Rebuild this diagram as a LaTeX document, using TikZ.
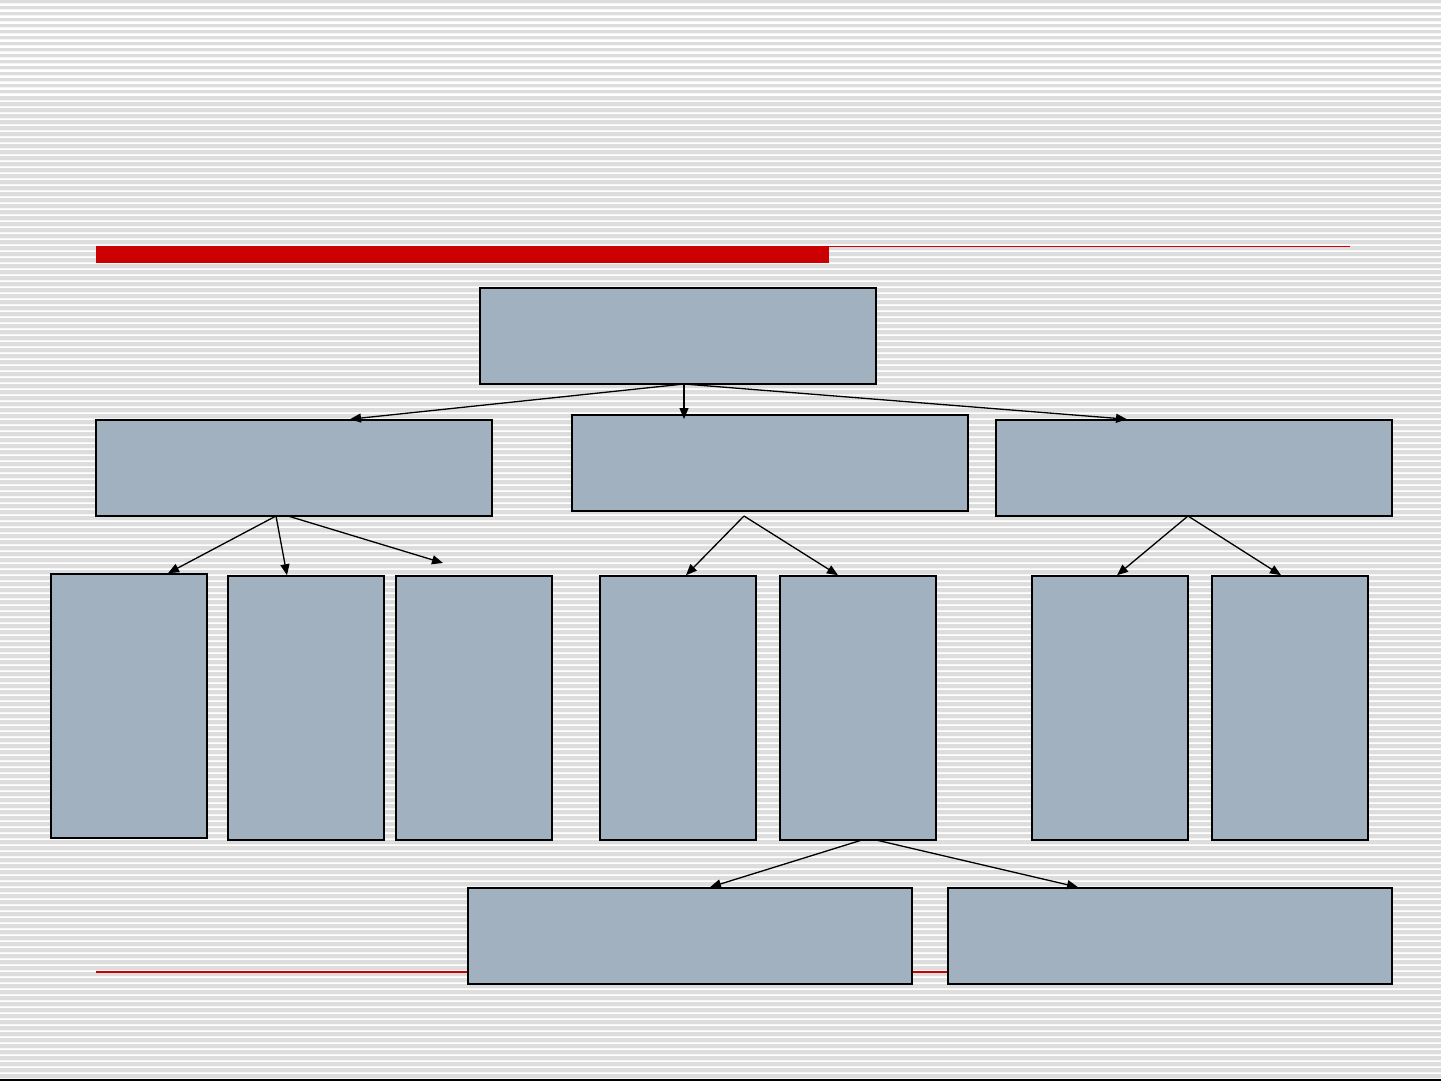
\documentclass[tikz,border=0pt]{standalone}
\usetikzlibrary{arrows.meta}
\definecolor{bgray}{HTML}{DDDDDD}
\definecolor{boxfill}{HTML}{A2B1C0}
\definecolor{redbar}{HTML}{CC0000}
\begin{document}
\begin{tikzpicture}[x=1pt,y=-1pt,
  box/.style={draw=black,line width=1.6pt,fill=boxfill,inner sep=0pt,rectangle},
  arr/.style={line width=1.3pt,-{Triangle[length=11pt,width=9pt]}}]
\useasboundingbox (0,0) rectangle (1441,1081);
\fill[bgray] (0,0) rectangle (1441,1081);
\foreach \k in {0,...,179}{
  \fill[white!96!black] (0,{6*\k+3.5}) rectangle (1441,{6*\k+4.5});
  \fill[white] (0,{6*\k+4.5}) rectangle (1441,{6*\k+5.8});
}
\fill[black] (0,1078.5) rectangle (1441,1080.5);
% red decoration
\fill[redbar] (96,246) rectangle (829,263);
\fill[redbar] (829,245.8) rectangle (1350,247.3);
\fill[redbar] (96,971.2) rectangle (1350,972.9);
% boxes
\node[box,minimum width=396pt,minimum height=96pt] (top) at (678,336) {};
\node[box,minimum width=396pt,minimum height=96pt] (L) at (294,468) {};
\node[box,minimum width=396pt,minimum height=96pt] (M) at (770,463) {};
\node[box,minimum width=396pt,minimum height=96pt] (R) at (1194,468) {};
\node[box,minimum width=156pt,minimum height=264pt] (a1) at (129,706) {};
\node[box,minimum width=156pt,minimum height=264pt] (a2) at (306,708) {};
\node[box,minimum width=156pt,minimum height=264pt] (a3) at (474,708) {};
\node[box,minimum width=156pt,minimum height=264pt] (b1) at (678,708) {};
\node[box,minimum width=156pt,minimum height=264pt] (b2) at (858,708) {};
\node[box,minimum width=156pt,minimum height=264pt] (c1) at (1110,708) {};
\node[box,minimum width=156pt,minimum height=264pt] (c2) at (1290,708) {};
\node[box,minimum width=444pt,minimum height=96pt] (d1) at (690,936) {};
\node[box,minimum width=444pt,minimum height=96pt] (d2) at (1170,936) {};
% connector coordinates
\coordinate (ts) at (684,384);
\coordinate (ls) at (276,516);
\coordinate (ls2) at (288,516);
\coordinate (ms) at (744,516);
\coordinate (rs) at (1188,516);
\coordinate (bs) at (862,840);
\coordinate (bs2) at (876,840);
\coordinate (free3) at (443,563);
\coordinate (mtip) at (684,419);
% arrows
\draw[arr] (ts) -- (L.north -| 350,0);
\draw[arr] (ts) -- (mtip);
\draw[arr] (ts) -- (R.north -| 1127,0);
\draw[arr] (ls) -- (a1.north -| 168,0);
\draw[arr] (ls) -- (a2.north -| 287,0);
\draw[arr] (ls2) -- (free3);
\draw[arr] (ms) -- (b1.north -| 686,0);
\draw[arr] (ms) -- (b2.north -| 838,0);
\draw[arr] (rs) -- (c1.north -| 1117,0);
\draw[arr] (rs) -- (c2.north -| 1281,0);
\draw[arr] (bs) -- (d1.north -| 710,0);
\draw[arr] (bs2) -- (d2.north -| 1078,0);
\end{tikzpicture}
\end{document}
